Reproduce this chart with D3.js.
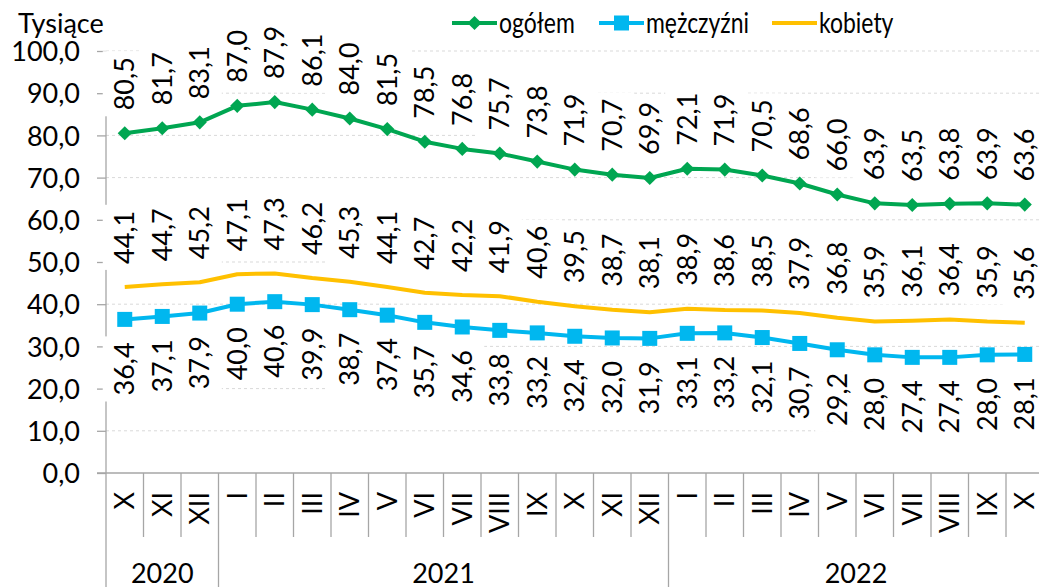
<!DOCTYPE html>
<html>
<head>
<meta charset="utf-8">
<script src="https://cdn.jsdelivr.net/npm/d3@7/dist/d3.min.js"></script>
<style>
  body { margin: 0; background: #fff; }
  text { font-family: Lato, "Open Sans", sans-serif; fill: #000; }
</style>
</head>
<body>
<div id="chart"></div>
<script>
var months = ["X","XI","XII","I","II","III","IV","V","VI","VII","VIII","IX","X","XI","XII",
              "I","II","III","IV","V","VI","VII","VIII","IX","X"];
var yearLabels = ["2020", "2021", "2022"];
var yearCounts = [3, 12, 10];

var ogolem = [80.5, 81.7, 83.1, 87.0, 87.9, 86.1, 84.0, 81.5, 78.5, 76.8, 75.7, 73.8, 71.9,
              70.7, 69.9, 72.1, 71.9, 70.5, 68.6, 66.0, 63.9, 63.5, 63.8, 63.9, 63.6];
var mezczyzni = [36.4, 37.1, 37.9, 40.0, 40.6, 39.9, 38.7, 37.4, 35.7, 34.6, 33.8, 33.2, 32.4,
                 32.0, 31.9, 33.1, 33.2, 32.1, 30.7, 29.2, 28.0, 27.4, 27.4, 28.0, 28.1];
var kobiety = [44.1, 44.7, 45.2, 47.1, 47.3, 46.2, 45.3, 44.1, 42.7, 42.2, 41.9, 40.6, 39.5,
               38.7, 38.1, 38.9, 38.6, 38.5, 37.9, 36.8, 35.9, 36.1, 36.4, 35.9, 35.6];
var yTicks = [0, 10, 20, 30, 40, 50, 60, 70, 80, 90, 100];

var W = 1039, H = 587;
var plotLeft = 106, plotBottom = 473, plotTop = 51;
var bandW = 37.5;

var green = "#00a651", blue = "#00b7ef", yellow = "#ffc000";
var fmt = function(v){ return d3.format(".1f")(v).replace(".", ","); };

var svg = d3.select("#chart").append("svg")
    .attr("width", W)
    .attr("height", H);

var x = d3.scaleBand()
    .domain(d3.range(months.length))
    .range([plotLeft, plotLeft + bandW * months.length]);

var y = d3.scaleLinear()
    .domain([0, 100])
    .range([plotBottom, plotTop]);

var cx = function(i){ return x(i) + x.bandwidth() / 2; };

// gridlines
svg.append("g").selectAll("line")
    .data(yTicks.filter(function(t){ return t > 0; }))
    .join("line")
    .attr("x1", plotLeft).attr("x2", W)
    .attr("y1", function(d){ return y(d); })
    .attr("y2", function(d){ return y(d); })
    .attr("stroke", "#d9d9d9")
    .attr("stroke-width", 1)
    .attr("stroke-dasharray", "3,3");

// y axis
var yAxis = d3.axisLeft(y)
    .tickValues(yTicks)
    .tickSize(9)
    .tickPadding(17)
    .tickFormat(fmt);

var gy = svg.append("g")
    .attr("transform", "translate(" + plotLeft + ",0)")
    .call(yAxis);
gy.select(".domain").remove();
gy.selectAll(".tick line").attr("stroke", "#a6a6a6").attr("stroke-width", 1.3);
gy.selectAll(".tick text")
    .style("font-size", "27px")
    .attr("font-family", null)
    .attr("dy", "0.36em");

svg.append("line")
    .attr("x1", plotLeft).attr("x2", plotLeft)
    .attr("y1", plotTop).attr("y2", plotBottom)
    .attr("stroke", "#a6a6a6").attr("stroke-width", 1.3);

// x axis
svg.append("line")
    .attr("x1", plotLeft - 9).attr("x2", W)
    .attr("y1", plotBottom).attr("y2", plotBottom)
    .attr("stroke", "#a6a6a6").attr("stroke-width", 1.3);

var yearStarts = [0];
yearCounts.forEach(function(c, i){ yearStarts.push(yearStarts[i] + c); });

svg.append("g").selectAll("line")
    .data(d3.range(months.length + 1))
    .join("line")
    .attr("x1", function(i){ return plotLeft + bandW * i; })
    .attr("x2", function(i){ return plotLeft + bandW * i; })
    .attr("y1", plotBottom)
    .attr("y2", function(i){ return yearStarts.indexOf(i) >= 0 ? H : 537; })
    .attr("stroke", "#a6a6a6").attr("stroke-width", 1.3);

svg.append("g").selectAll("text")
    .data(months)
    .join("text")
    .attr("transform", function(d, i){ return "translate(" + cx(i) + "," + (plotBottom + 19) + ") rotate(-90)"; })
    .attr("text-anchor", "end")
    .attr("dy", "0.36em")
    .style("font-size", "27px")
    .text(function(d){ return d; });

svg.append("g").selectAll("text")
    .data(yearLabels)
    .join("text")
    .attr("x", function(d, i){ return plotLeft + bandW * (yearStarts[i] + yearCounts[i] / 2); })
    .attr("y", 583)
    .attr("text-anchor", "middle")
    .style("font-size", "27px")
    .text(function(d){ return d; });

svg.append("text")
    .attr("x", 18).attr("y", 33)
    .style("font-size", "27px")
    .text("Tysiące");

// lines
var line = d3.line()
    .x(function(d, i){ return cx(i); })
    .y(function(d){ return y(d); });

function drawLine(data, color){
  svg.append("path")
      .datum(data)
      .attr("d", line)
      .attr("fill", "none")
      .attr("stroke", color)
      .attr("stroke-width", 4)
      .attr("stroke-linejoin", "round");
}
drawLine(kobiety, yellow);
drawLine(mezczyzni, blue);
drawLine(ogolem, green);

svg.append("g").selectAll("rect")
    .data(mezczyzni)
    .join("rect")
    .attr("x", function(d, i){ return cx(i) - 7.5; })
    .attr("y", function(d){ return y(d) - 7.5; })
    .attr("width", 15).attr("height", 15)
    .attr("fill", blue);

svg.append("g").selectAll("path")
    .data(ogolem)
    .join("path")
    .attr("d", d3.symbol(d3.symbolSquare, 100))
    .attr("transform", function(d, i){ return "translate(" + cx(i) + "," + y(d) + ") rotate(45)"; })
    .attr("fill", green);

// data labels with white boxes
function drawLabels(data, above){
  var g = svg.append("g").selectAll("g")
      .data(data)
      .join("g")
      .attr("transform", function(d, i){ return "translate(" + cx(i) + "," + y(d) + ") rotate(-90)"; });
  var rects = g.append("rect").attr("fill", "#fff");
  var texts = g.append("text")
      .attr("x", above ? 23 : -23)
      .attr("dy", "0.36em")
      .attr("text-anchor", above ? "start" : "end")
      .style("font-size", "27px")
      .text(function(d){ return fmt(d); });
  texts.each(function(){
    var b = this.getBBox();
    d3.select(this.previousSibling)
        .attr("x", b.x - 6).attr("width", b.width + 12)
        .attr("y", -22).attr("height", 44);
  });
}
drawLabels(ogolem, true);
drawLabels(kobiety, true);
drawLabels(mezczyzni, false);

// legend
var legend = [
  {name: "ogółem", color: green, x: 452, marker: "diamond"},
  {name: "mężczyźni", color: blue, x: 599, marker: "square"},
  {name: "kobiety", color: yellow, x: 772, marker: null}
];
var lg = svg.append("g").selectAll("g")
    .data(legend)
    .join("g")
    .attr("transform", function(d){ return "translate(" + d.x + ",23)"; });
lg.append("line")
    .attr("x1", 0).attr("x2", 45)
    .attr("stroke", function(d){ return d.color; })
    .attr("stroke-width", 4);
lg.filter(function(d){ return d.marker == "square"; })
    .append("rect")
    .attr("x", 15).attr("y", -7.5).attr("width", 15).attr("height", 15)
    .attr("fill", function(d){ return d.color; });
lg.filter(function(d){ return d.marker == "diamond"; })
    .append("path")
    .attr("d", d3.symbol(d3.symbolSquare, 100))
    .attr("transform", "translate(22.5,0) rotate(45)")
    .attr("fill", function(d){ return d.color; });
lg.append("text")
    .attr("transform", "translate(47,10) scale(0.85,1.05)")
    .style("font-size", "27px")
    .text(function(d){ return d.name; });
</script>
</body>
</html>
